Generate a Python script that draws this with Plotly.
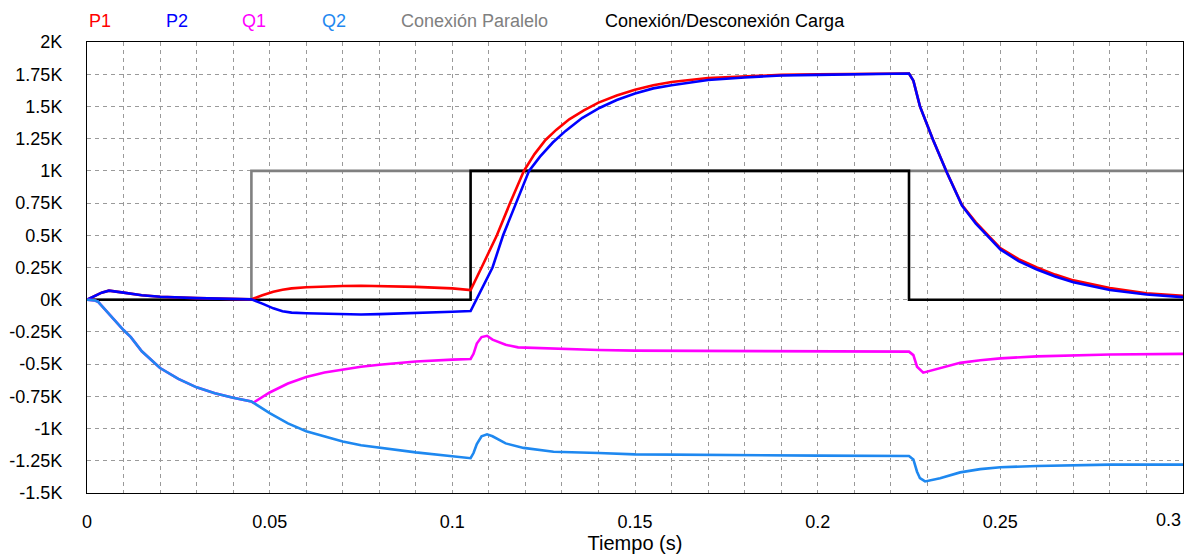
import plotly.graph_objects as go

# ---------------- data (values in K) ----------------
t_p1 = [0, 0.002, 0.004, 0.006, 0.008, 0.01, 0.015, 0.02, 0.03, 0.04, 0.045,
        0.048, 0.051, 0.0535, 0.056, 0.06, 0.065, 0.07, 0.075, 0.08, 0.09, 0.1, 0.105,
        0.108, 0.1122, 0.1158, 0.1196, 0.1225, 0.1255, 0.1285, 0.132, 0.136, 0.14, 0.145,
        0.15, 0.155, 0.16, 0.17, 0.18, 0.19, 0.2, 0.225,
        0.2262, 0.228, 0.2316, 0.2354, 0.2395, 0.2433, 0.247, 0.25, 0.255, 0.26, 0.265, 0.27,
        0.28, 0.29, 0.3]
p1 = [0, 0.025, 0.055, 0.07, 0.065, 0.055, 0.035, 0.023, 0.012, 0.005, 0.003,
      0.035, 0.062, 0.078, 0.088, 0.097, 0.103, 0.107, 0.108, 0.107, 0.1, 0.088, 0.075,
      0.25, 0.5, 0.75, 1.0, 1.13, 1.24, 1.32, 1.40, 1.47, 1.53, 1.585,
      1.63, 1.665, 1.69, 1.72, 1.735, 1.745, 1.75, 1.755,
      1.70, 1.5, 1.24, 0.985, 0.735, 0.6, 0.49, 0.40, 0.315, 0.25, 0.195, 0.15,
      0.09, 0.05, 0.03]

t_p2 = [0, 0.002, 0.004, 0.006, 0.008, 0.01, 0.015, 0.02, 0.03, 0.04, 0.045,
        0.048, 0.051, 0.0535, 0.056, 0.06, 0.065, 0.07, 0.075, 0.08, 0.09, 0.1, 0.105,
        0.111, 0.1139, 0.1175, 0.121, 0.124, 0.1275, 0.131, 0.1355, 0.1404, 0.145,
        0.15, 0.155, 0.16, 0.17, 0.18, 0.19, 0.2, 0.225,
        0.2262, 0.228, 0.2316, 0.2354, 0.2395, 0.2433, 0.247, 0.25, 0.255, 0.26, 0.265, 0.27,
        0.28, 0.29, 0.3]
p2 = [0, 0.025, 0.055, 0.07, 0.065, 0.055, 0.035, 0.023, 0.012, 0.005, 0.003,
      -0.03, -0.067, -0.09, -0.1, -0.105, -0.11, -0.115, -0.115, -0.112, -0.105, -0.093, -0.088,
      0.25, 0.5, 0.75, 1.0, 1.11, 1.22, 1.31, 1.41, 1.49, 1.55,
      1.60, 1.64, 1.665, 1.705, 1.725, 1.74, 1.745, 1.755,
      1.70, 1.5, 1.24, 0.985, 0.73, 0.59, 0.48, 0.39, 0.30, 0.235, 0.18, 0.135,
      0.075, 0.04, 0.02]

t_q1 = [0, 0.002, 0.003, 0.005, 0.006, 0.008, 0.01, 0.012, 0.015, 0.02, 0.025, 0.03, 0.035,
        0.04, 0.045, 0.0455,
        0.05, 0.055, 0.06, 0.065, 0.07, 0.075, 0.08, 0.09, 0.1, 0.105,
        0.1058, 0.1067, 0.108, 0.1095, 0.111, 0.1146, 0.118, 0.1277, 0.14, 0.15, 0.2, 0.225,
        0.2262, 0.2272, 0.2289, 0.2335, 0.239, 0.2445, 0.25, 0.26, 0.27, 0.28, 0.3]
q1 = [0, -0.005, -0.015, -0.08, -0.11, -0.17, -0.235, -0.29, -0.40, -0.53, -0.615, -0.68, -0.725,
      -0.76, -0.79, -0.80,
      -0.72, -0.65, -0.60, -0.565, -0.54, -0.52, -0.505, -0.48, -0.465, -0.46,
      -0.42, -0.34, -0.29, -0.28, -0.31, -0.35, -0.37, -0.38, -0.39, -0.395, -0.40, -0.403,
      -0.43, -0.52, -0.566, -0.53, -0.49, -0.47, -0.455, -0.44, -0.43, -0.425, -0.42]

t_q2 = [0, 0.002, 0.003, 0.005, 0.006, 0.008, 0.01, 0.012, 0.015, 0.02, 0.025, 0.03, 0.035,
        0.04, 0.045,
        0.05, 0.055, 0.06, 0.065, 0.07, 0.075, 0.08, 0.09, 0.1, 0.105,
        0.1058, 0.1067, 0.108, 0.1095, 0.111, 0.1146, 0.1195, 0.1277, 0.14, 0.15, 0.2, 0.225,
        0.2262, 0.2272, 0.228, 0.2294, 0.2335, 0.239, 0.2445, 0.25, 0.26, 0.27, 0.28, 0.3]
q2 = [0, -0.005, -0.015, -0.08, -0.11, -0.17, -0.235, -0.29, -0.40, -0.53, -0.615, -0.68, -0.725,
      -0.76, -0.79,
      -0.88, -0.96, -1.02, -1.06, -1.10, -1.13, -1.15, -1.185, -1.215, -1.23,
      -1.19, -1.12, -1.06, -1.045, -1.06, -1.115, -1.15, -1.18, -1.19, -1.20, -1.21, -1.213,
      -1.24, -1.335, -1.385, -1.41, -1.385, -1.34, -1.315, -1.30, -1.29, -1.285, -1.28, -1.28]

t_par = [0, 0.045, 0.045, 0.3]
par = [0, 0, 1.0, 1.0]

t_carga = [0, 0.105, 0.105, 0.225, 0.225, 0.3]
carga = [0, 0, 1.0, 1.0, 0, 0]

y_ticks = [2, 1.75, 1.5, 1.25, 1, 0.75, 0.5, 0.25, 0, -0.25, -0.5, -0.75, -1, -1.25, -1.5]
y_labels = ["2K", "1.75K", "1.5K", "1.25K", "1K", "0.75K", "0.5K", "0.25K", "0K",
            "-0.25K", "-0.5K", "-0.75K", "-1K", "-1.25K", "-1.5K"]
x_ticks = [0, 0.05, 0.1, 0.15, 0.2, 0.25]
x_labels = ["0", "0.05", "0.1", "0.15", "0.2", "0.25"]

names = ["P1", "P2", "Q1", "Q2", "Conexión Paralelo", "Conexión/Desconexión Carga"]
colors = ["#ff0000", "#0000ff", "#ff00ff", "#1e88f0", "#808080", "#000000"]

FONT = "Liberation Sans, Arial, sans-serif"

fig = go.Figure()
W = 2.6
fig.add_trace(go.Scatter(x=t_par, y=par, mode="lines", name=names[4],
                         line=dict(color=colors[4], width=W)))
fig.add_trace(go.Scatter(x=t_carga, y=carga, mode="lines", name=names[5],
                         line=dict(color=colors[5], width=W)))
fig.add_trace(go.Scatter(x=t_p1, y=p1, mode="lines", name=names[0],
                         line=dict(color=colors[0], width=W)))
fig.add_trace(go.Scatter(x=t_p2, y=p2, mode="lines", name=names[1],
                         line=dict(color=colors[1], width=W)))
fig.add_trace(go.Scatter(x=t_q1, y=q1, mode="lines", name=names[2],
                         line=dict(color=colors[2], width=W)))
fig.add_trace(go.Scatter(x=t_q2, y=q2, mode="lines", name=names[3],
                         line=dict(color=colors[3], width=W)))

L, R, T, B = 87, 2, 42, 61
PW, PH = 1185 - L - R, 554 - T - B

# legend as coloured text
leg_x = [87, 164, 240, 320, 399, 603]
for nm, c, px in zip(names, colors, leg_x):
    fig.add_annotation(text=nm, xref="paper", yref="paper",
                       x=(px - L) / PW, y=1 + (T - 21) / PH,
                       xanchor="left", yanchor="middle", showarrow=False,
                       font=dict(family=FONT, size=18, color=c))

# last x tick label kept inside the canvas
fig.add_annotation(text="0.3", xref="x", yref="paper", x=0.3, y=0,
                   xanchor="right", yanchor="top", yshift=-15, showarrow=False,
                   font=dict(family=FONT, size=18, color="#000000"))

grid = dict(showgrid=True, gridcolor="#9a9a9a", gridwidth=1, griddash="4px,4px")

fig.update_layout(
    width=1185, height=554,
    margin=dict(l=L, r=R, t=T, b=B, autoexpand=False),
    paper_bgcolor="white", plot_bgcolor="white",
    showlegend=False,
    font=dict(family=FONT, size=18, color="#000000"),
    xaxis=dict(range=[0, 0.3], tickvals=x_ticks, ticktext=x_labels,
               showline=True, linecolor="#000000", linewidth=1, mirror=True,
               zeroline=False, ticks="", ticklabelstandoff=12,
               minor=dict(dtick=0.01, tick0=0, showgrid=True, gridcolor="#9a9a9a",
                          gridwidth=1, griddash="4px,4px"),
               title=dict(text="Tiempo (s)", standoff=5,
                          font=dict(family=FONT, size=20)),
               **grid),
    yaxis=dict(range=[-1.5, 2], tickvals=y_ticks, ticktext=y_labels,
               showline=True, linecolor="#000000", linewidth=1, mirror=True,
               zeroline=False, ticks="", ticklabelstandoff=20,
               **grid),
)

fig.write_html("out.html", config={"displayModeBar": False},
               post_script="document.body.style.margin='0';document.body.style.overflow='hidden';")
